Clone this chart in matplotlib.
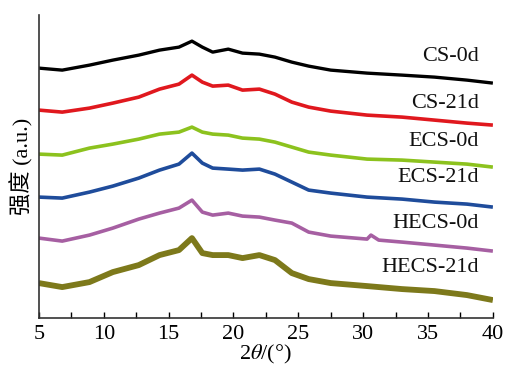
import matplotlib
matplotlib.use("Agg")
import matplotlib.pyplot as plt
from matplotlib.ticker import MultipleLocator

# 2theta sample positions (degrees) and intensities (a.u., stacked offsets)
two_theta = [5.0, 6.8, 8.9, 10.7, 12.7, 14.3, 15.8, 16.8, 17.6, 18.4, 19.6, 20.7,
             22.0, 23.2, 24.5, 25.8, 27.5, 30.3, 33.0, 35.5, 38.0, 40.0]

cs_0d = [250, 248, 253, 258, 263, 268, 271, 277, 271, 266, 269, 265,
         264, 261, 256, 252, 248, 245, 243, 241, 238, 235]
cs_21d = [208, 206, 210, 215, 221, 229, 234, 243, 236, 232, 233, 228,
          229, 224, 216, 211, 207, 203, 201, 198, 195, 193]
ecs_0d = [164, 163, 170, 174, 179, 184, 186, 191, 186, 184, 183, 180,
          179, 176, 171, 166, 163, 159, 158, 156, 154, 151]
ecs_21d = [121, 120, 126, 132, 140, 148, 154, 165, 155, 150, 149, 148,
           149, 144, 136, 128, 125, 121, 119, 116, 114, 111]
hecs_0d = [80, 77, 83, 90, 99, 105, 110, 118, 106, 103, 105, 102,
           101, 98, 95, 86, 82, 79, 76, 73, 70, 67]
hecs_21d = [35, 31, 36, 46, 53, 63, 68, 80, 65, 63, 63, 60,
            63, 58, 45, 39, 35, 32, 29, 27, 23, 18]

# small extra peak of HECS-0d near 30.6 degrees
hecs0_peak_x = [30.6, 31.2]
hecs0_peak_y = [83, 78]

series_names = ["CS-0d", "CS-21d", "ECS-0d", "ECS-21d", "HECS-0d", "HECS-21d"]
label_y = [262, 215, 177, 141, 95, 51]
x_ticks = [5, 10, 15, 20, 25, 30, 35, 40]

colors = ["#000000", "#e0181e", "#8cc21e", "#1f4c9b", "#a65fa2", "#7d791b"]
widths = [2.4, 2.6, 2.6, 2.6, 2.6, 4.2]

plt.rcParams["font.family"] = ["Liberation Serif", "Noto Sans CJK SC"]
plt.rcParams["mathtext.fontset"] = "stix"

fig = plt.figure(figsize=(5.05, 3.69), dpi=100)
ax = fig.add_axes([0.077, 0.138, 0.899, 0.821])

data = [cs_0d, cs_21d, ecs_0d, ecs_21d, hecs_0d, hecs_21d]
for i, (ys, c, w) in enumerate(zip(data, colors, widths)):
    xs = list(two_theta)
    yv = list(ys)
    if i == 4:
        pts = sorted(list(zip(xs, yv)) + list(zip(hecs0_peak_x, hecs0_peak_y)))
        xs = [p[0] for p in pts]
        yv = [p[1] for p in pts]
    ax.plot(xs, yv, color=c, lw=w, solid_joinstyle="round", solid_capstyle="butt")

for name, yy in zip(series_names, label_y):
    ax.text(38.9, yy, name, ha="right", va="center", fontsize=16, color="#111111")

ax.set_xlim(5, 40)
ax.set_ylim(0, 303)
ax.set_xticks(x_ticks)
ax.set_xticklabels([str(t) for t in x_ticks], fontsize=16)
ax.xaxis.set_minor_locator(MultipleLocator(2.5))
ax.tick_params(axis="x", which="both", direction="in", length=4, width=1, pad=5)
ax.set_yticks([])
for s in ["top", "right"]:
    ax.spines[s].set_visible(False)
for s in ["left", "bottom"]:
    ax.spines[s].set_linewidth(1.2)
    ax.spines[s].set_color("#333333")

ax.set_xlabel(r"2$\it{\theta}$/(°)", fontsize=16, labelpad=-1)
ax.set_ylabel("强度 (a.u.)", fontsize=16, labelpad=4)

fig.savefig("out.png", dpi=100)
